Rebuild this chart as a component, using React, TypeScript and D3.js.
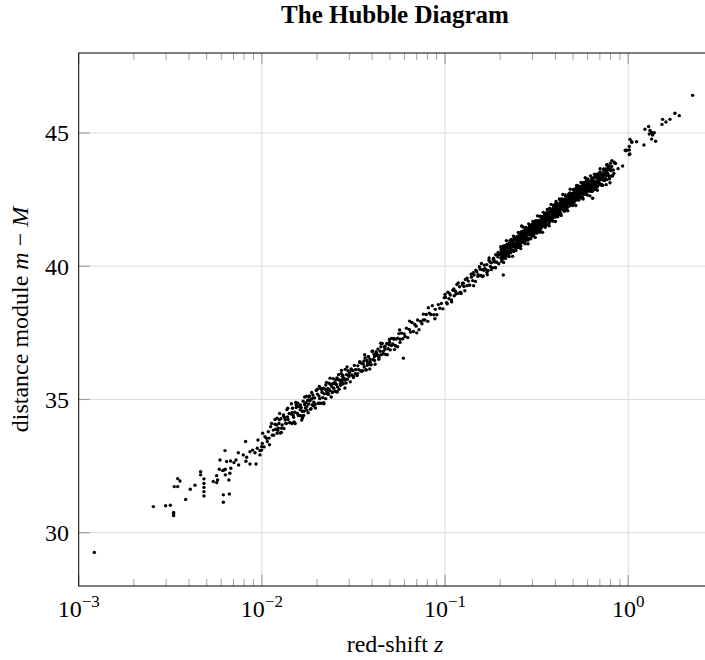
import React from "react";
import * as d3 from "d3";

// each entry: [red-shift z, distance module m - M]
type Sn = [number, number];

const nearbySample: Sn[] = [
  [0.001217, 29.26], [0.002555, 30.98], [0.002983, 31.01], [0.003164, 31.03],
  [0.003298, 30.76], [0.003298, 30.7], [0.003298, 30.64], [0.003325, 31.73],
  [0.003469, 31.73], [0.003469, 32.03], [0.003572, 31.94], [0.003836, 31.25],
  [0.004067, 31.63], [0.004312, 31.78], [0.00463, 32.29], [0.00463, 32.17],
  [0.004827, 32.02], [0.004827, 31.85], [0.004827, 31.7], [0.004827, 31.54],
  [0.004827, 31.38], [0.005429, 31.92], [0.005662, 31.88], [0.005733, 31.98],
  [0.005662, 32.14], [0.005904, 32.73], [0.005854, 32.38], [0.006105, 32.33],
  [0.006209, 32.35], [0.006314, 32.38], [0.006288, 33.08], [0.00616, 31.42],
  [0.006642, 31.45], [0.00616, 31.14], [0.006314, 32.17], [0.006685, 32.23],
  [0.006766, 32.42], [0.006605, 31.98], [0.006421, 32.67], [0.006752, 32.69],
  [0.007042, 32.63], [0.007221, 32.73], [0.007467, 32.54], [0.007436, 33.0],
  [0.007917, 32.92], [0.008257, 32.83], [0.008186, 32.68], [0.00861, 32.58],
  [0.008152, 33.42], [0.00861, 33.04], [0.008906, 33.1], [0.009171, 33.0],
  [0.009442, 33.17], [0.009763, 33.08], [0.00997, 33.23], [0.009288, 32.58],
  [0.009763, 32.92], [0.00997, 33.1], [0.009522, 33.48], [0.0101, 33.73],
  [0.0104, 33.6], [0.01062, 33.54], [0.01084, 33.79], [0.01116, 33.98],
  [0.01154, 33.85], [0.01204, 34.04], [0.0113, 34.1], [0.01229, 33.92],
  [0.01005, 33.35], [0.01028, 33.22], [0.0107, 33.42], [0.01095, 33.55],
  [0.011, 33.3], [0.0114, 33.66],
];

const localSample: Sn[] = [
  [0.0116, 33.66], [0.0118, 34.07], [0.0119, 33.88], [0.0121, 34.3], [0.0122, 33.84],
  [0.0124, 34.1], [0.0126, 33.74], [0.0127, 34.28], [0.0129, 34.04], [0.0131, 34.39],
  [0.0132, 33.91], [0.0134, 34.24], [0.0136, 34.1], [0.0137, 34.62], [0.0139, 34.25],
  [0.0141, 34.47], [0.0142, 34.13], [0.0144, 34.46], [0.0146, 34.1], [0.0147, 34.67],
  [0.0149, 34.33], [0.0151, 34.52], [0.0152, 34.1], [0.0154, 34.7], [0.0156, 34.48],
  [0.0157, 34.86], [0.0159, 34.41], [0.0161, 34.72], [0.0163, 34.39], [0.0164, 34.69],
  [0.0166, 34.56], [0.0168, 34.93], [0.0169, 34.4], [0.0171, 34.81], [0.0173, 34.69],
  [0.0175, 35.12], [0.0176, 34.6], [0.0178, 34.97], [0.018, 34.83], [0.0182, 35.13],
  [0.0184, 34.63], [0.0186, 35.01], [0.0188, 34.8], [0.019, 35.17], [0.0192, 34.9],
  [0.0194, 35.06], [0.0196, 34.68], [0.0198, 35.34], [0.0125, 34.47], [0.0133, 34.32],
  [0.0148, 34.41], [0.0158, 34.74], [0.017, 34.56], [0.0183, 34.95], [0.0191, 34.76],
  [0.0145, 34.84], [0.0165, 34.23], [0.0128, 33.92], [0.0138, 34.34], [0.0153, 34.89],
  [0.0179, 34.5], [0.0187, 35.26], [0.0162, 34.61], [0.0174, 34.88],
  [0.0201, 35.2], [0.0203, 34.86], [0.0205, 35.13], [0.0207, 35.03], [0.0209, 35.41],
  [0.0211, 34.86], [0.0213, 35.27], [0.0215, 35.07], [0.0217, 35.42], [0.0219, 35.21],
  [0.0221, 35.38], [0.0223, 35.03], [0.0225, 35.64], [0.0227, 35.21], [0.0229, 35.4],
  [0.0231, 35.19], [0.0233, 35.61], [0.0235, 35.34], [0.0237, 35.56], [0.0239, 35.09],
  [0.0241, 35.48], [0.0243, 35.28], [0.0245, 35.78], [0.0247, 35.42], [0.0249, 35.6],
  [0.0251, 35.31], [0.0253, 35.73], [0.0255, 35.56], [0.0257, 35.81], [0.0259, 35.47],
  [0.0262, 35.74], [0.0264, 35.38], [0.0266, 35.72], [0.0268, 35.59], [0.0271, 35.97],
  [0.0273, 35.68], [0.0275, 35.87], [0.0278, 35.59], [0.028, 35.8], [0.0283, 35.73],
  [0.0285, 36.13], [0.0288, 35.62], [0.029, 35.93], [0.0293, 35.76], [0.0295, 36.08],
  [0.0298, 35.91], [0.0301, 36.01], [0.0304, 35.66], [0.0307, 36.14], [0.031, 35.92],
  [0.0314, 36.08], [0.0317, 35.86], [0.032, 36.28], [0.0324, 35.97], [0.0327, 36.12],
  [0.0331, 35.9], [0.0334, 36.26], [0.0338, 36.12], [0.0342, 36.38], [0.0346, 36.07],
  [0.0206, 35.49], [0.0218, 34.84], [0.0232, 35.38], [0.0244, 35.59], [0.0258, 35.28],
  [0.0272, 36.09], [0.0286, 35.76], [0.0226, 35.3], [0.0252, 35.6], [0.0276, 35.76],
];

const localExtra: Sn[] = [
  [0.0118, 34.25], [0.01212, 33.73], [0.01245, 34.24], [0.01278, 33.76], [0.01313, 34.42],
  [0.01348, 34.11], [0.01384, 34.67], [0.01422, 34.13], [0.0146, 34.5], [0.01499, 34.16],
  [0.0154, 34.8], [0.01581, 34.4], [0.01624, 34.79], [0.01668, 34.31], [0.01713, 35.09],
  [0.01759, 34.74], [0.01806, 35.09], [0.01855, 34.65], [0.01905, 35.06], [0.01956, 34.82],
  [0.02009, 35.38], [0.02063, 34.86], [0.02119, 35.37], [0.02176, 34.88], [0.02235, 35.54],
  [0.02295, 35.24], [0.02357, 35.8], [0.02421, 35.26], [0.02486, 35.63], [0.02553, 35.29],
  [0.02622, 35.93], [0.02693, 35.53], [0.02765, 35.91], [0.0284, 35.43], [0.02917, 36.22],
  [0.02995, 35.87], [0.03076, 36.11], [0.03159, 35.82], [0.03244, 36.12], [0.03332, 35.97],
  [0.03422, 36.42], [0.03514, 36.06], [0.03609, 36.44], [0.03706, 36.12], [0.03806, 36.6],
  [0.03909, 36.41], [0.04014, 36.82], [0.04123, 36.46], [0.04234, 36.73], [0.04348, 36.51],
  [0.04466, 36.98], [0.04586, 36.71], [0.0471, 37.0], [0.04837, 36.68], [0.04968, 37.25],
  [0.05102, 37.02], [0.0524, 37.29], [0.05381, 37.0], [0.05526, 37.3], [0.05675, 37.14],
];

const intermediateSample: Sn[] = [
  [0.035, 36.36], [0.0354, 36.08], [0.0358, 36.33], [0.0362, 36.22], [0.0366, 36.56],
  [0.037, 36.1], [0.0374, 36.46], [0.0378, 36.38], [0.0382, 36.6], [0.0386, 36.31],
  [0.039, 36.5], [0.0395, 36.3], [0.04, 36.8], [0.0405, 36.5], [0.041, 36.7],
  [0.0415, 36.32], [0.042, 36.79], [0.0425, 36.66], [0.043, 36.89], [0.0436, 36.57],
  [0.0442, 36.81], [0.0448, 36.68], [0.0454, 37.1], [0.046, 36.8], [0.0467, 36.97],
  [0.0474, 36.69], [0.0481, 37.1], [0.0488, 36.9], [0.0495, 37.05], [0.0502, 36.86],
  [0.051, 37.29], [0.0518, 37.08], [0.0526, 37.26], [0.0534, 37.03], [0.0542, 37.27],
  [0.0551, 36.98], [0.056, 37.47], [0.0569, 37.26], [0.0578, 37.49], [0.0588, 37.28],
  [0.0598, 37.46], [0.0592, 36.55], [0.0364, 36.68], [0.0388, 36.14], [0.0412, 36.61],
  [0.0445, 37.11], [0.047, 36.88], [0.0498, 37.15], [0.053, 36.87], [0.0565, 37.61],
  [0.0376, 36.28], [0.0432, 36.65],
  [0.0605, 37.36], [0.0615, 37.67], [0.0626, 37.32], [0.0637, 37.63], [0.0648, 37.53],
  [0.0659, 37.89], [0.0671, 37.55], [0.0683, 37.82], [0.0695, 37.75], [0.0708, 37.98],
  [0.0721, 37.62], [0.0734, 37.93], [0.0748, 37.84], [0.0762, 38.2], [0.0776, 37.98],
  [0.079, 38.19], [0.0805, 37.93], [0.082, 38.24], [0.0836, 38.19], [0.0852, 38.52],
  [0.0868, 38.18], [0.0884, 38.38], [0.0901, 38.18], [0.0918, 38.56], [0.0936, 38.42],
  [0.0954, 38.6], [0.0972, 38.4], [0.099, 38.82], [0.064, 37.94], [0.07, 37.5],
  [0.081, 38.44], [0.088, 38.03], [0.076, 37.98],
  [0.1005, 38.83], [0.102, 38.63], [0.1035, 39.02], [0.105, 38.78], [0.1068, 38.92],
  [0.1085, 38.73], [0.1103, 39.1], [0.1122, 38.89], [0.114, 39.06], [0.116, 39.31],
  [0.118, 38.98], [0.12, 39.23], [0.1222, 38.98], [0.1245, 39.36], [0.1268, 39.24],
  [0.1258, 39.36], [0.1292, 39.5], [0.1316, 39.27], [0.134, 39.44], [0.1365, 39.29],
  [0.139, 39.7], [0.1426, 39.76], [0.1415, 39.46], [0.144, 39.67], [0.1465, 39.43],
  [0.149, 39.79], [0.1515, 39.68], [0.154, 39.98], [0.1565, 39.65], [0.159, 39.87],
  [0.1615, 39.63], [0.164, 40.04], [0.1665, 39.89], [0.169, 40.06], [0.1715, 39.84],
  [0.174, 40.31], [0.1765, 39.99], [0.179, 40.13], [0.1815, 39.94], [0.184, 40.3],
  [0.1865, 40.16], [0.189, 40.43], [0.1915, 40.15], [0.194, 40.35], [0.1965, 40.09],
  [0.199, 40.44], [0.158, 40.1], [0.17, 39.68], [0.185, 40.21], [0.195, 40.52],
  [0.163, 39.85], [0.176, 40.16], [0.188, 39.95],
  [0.1, 38.94], [0.1028, 38.59], [0.1057, 38.98], [0.1086, 38.66], [0.1117, 39.15],
  [0.1148, 38.96], [0.118, 39.37], [0.1213, 39.02], [0.1247, 39.29], [0.1282, 39.08],
  [0.1318, 39.55], [0.1355, 39.29], [0.1393, 39.59], [0.1432, 39.27], [0.1472, 39.85],
  [0.1513, 39.62], [0.1555, 39.89], [0.1599, 39.61], [0.1644, 39.91], [0.169, 39.77],
  [0.1737, 40.22], [0.1786, 39.87], [0.1836, 40.26], [0.1887, 39.94], [0.194, 40.43],
];

const distantSample: Sn[] = [
  [0.2005, 40.5], [0.2014, 40.31], [0.2023, 40.63], [0.2031, 40.42], [0.204, 40.56],
  [0.2049, 40.25], [0.2058, 40.49], [0.2066, 40.4], [0.2075, 40.75], [0.2083, 40.35],
  [0.2092, 40.56], [0.2101, 40.51], [0.211, 40.67], [0.2118, 40.36], [0.2127, 40.64],
  [0.2136, 40.29], [0.2145, 40.74], [0.2153, 40.52], [0.2162, 40.59], [0.2171, 40.49],
  [0.218, 40.83], [0.2188, 40.58], [0.2197, 40.75], [0.2206, 40.48], [0.2215, 40.71],
  [0.2224, 40.74], [0.2233, 40.55], [0.2242, 40.87], [0.2251, 40.66], [0.226, 40.81],
  [0.2269, 40.5], [0.2278, 40.74], [0.2287, 40.65], [0.2296, 41.0], [0.2305, 40.61],
  [0.2314, 40.82], [0.2323, 40.77], [0.2332, 40.93], [0.2341, 40.61], [0.235, 40.89],
  [0.2357, 40.98], [0.2368, 40.55], [0.2377, 41.0], [0.2386, 40.78], [0.2395, 40.84],
  [0.2404, 40.74], [0.2413, 41.08], [0.2422, 40.83], [0.2431, 41.0], [0.244, 40.73],
  [0.2449, 40.96], [0.2458, 40.99], [0.2467, 40.8], [0.2476, 41.12], [0.2485, 40.9],
  [0.2494, 41.05], [0.2503, 40.74], [0.2512, 40.98], [0.2521, 40.89], [0.253, 41.24],
  [0.2539, 40.84], [0.2548, 41.04], [0.2557, 40.99], [0.2566, 41.15], [0.2575, 40.84],
  [0.2584, 41.12], [0.2593, 40.76], [0.2602, 41.21], [0.2617, 41.51], [0.262, 41.0],
  [0.2629, 41.07], [0.2638, 40.96], [0.2647, 41.3], [0.2656, 41.05], [0.2665, 41.22],
  [0.2674, 40.95], [0.2683, 41.17], [0.2692, 41.2], [0.2701, 41.01], [0.271, 41.33],
  [0.2719, 41.12], [0.2728, 41.26], [0.2737, 40.95], [0.2746, 41.19], [0.2755, 41.1],
  [0.2764, 41.45], [0.2773, 41.04], [0.2782, 41.25], [0.2791, 41.2], [0.28, 41.36],
  [0.2812, 41.05], [0.2824, 41.33], [0.2836, 40.98], [0.2848, 41.43], [0.286, 41.21],
  [0.2872, 41.28], [0.2884, 41.19], [0.2896, 41.53], [0.2908, 41.28], [0.292, 41.45],
  [0.2932, 41.18], [0.2944, 41.41], [0.2956, 41.44], [0.2968, 41.25], [0.298, 41.57],
  [0.2992, 41.36], [0.2078, 39.67],
  [0.301, 41.29], [0.3027, 41.52], [0.3044, 41.2], [0.3061, 41.44], [0.3078, 41.51],
  [0.3095, 41.3], [0.3112, 41.67], [0.3129, 41.43], [0.3146, 41.54], [0.3163, 41.24],
  [0.318, 41.62], [0.3197, 41.42], [0.3214, 41.53], [0.3231, 41.71], [0.3248, 41.4],
  [0.3265, 41.61], [0.3282, 41.52], [0.3299, 41.86], [0.3316, 41.4], [0.3333, 41.7],
  [0.335, 41.52], [0.3367, 41.67], [0.3384, 41.81], [0.3401, 41.5], [0.3418, 41.68],
  [0.3435, 41.62], [0.3452, 41.85], [0.3469, 41.53], [0.3486, 41.77], [0.3503, 41.84],
  [0.352, 41.62], [0.3537, 42.0], [0.3554, 41.76], [0.3571, 41.86], [0.3588, 41.56],
  [0.3605, 41.94], [0.3622, 41.73], [0.3639, 41.85], [0.3656, 42.03], [0.3673, 41.71],
  [0.369, 41.92], [0.3707, 41.83], [0.3724, 42.18], [0.3741, 41.71], [0.3758, 42.01],
  [0.3775, 41.82], [0.3792, 41.97], [0.3809, 42.12], [0.3826, 41.8], [0.3843, 41.98],
  [0.386, 41.92], [0.3877, 42.15], [0.3894, 41.82], [0.3911, 42.06], [0.3928, 42.13],
  [0.3945, 41.91], [0.3962, 42.28], [0.3979, 42.05], [0.3996, 42.15], [0.402, 41.85],
  [0.4045, 42.24], [0.407, 42.03], [0.4095, 42.15], [0.412, 42.34], [0.4145, 42.02],
  [0.417, 42.24], [0.4195, 42.15], [0.422, 42.5], [0.4245, 42.03], [0.427, 42.34],
  [0.4295, 42.16], [0.432, 42.31], [0.4345, 42.46], [0.437, 42.14], [0.4395, 42.32],
  [0.442, 42.27], [0.4445, 42.5], [0.447, 42.18], [0.4495, 42.42],
  [0.452, 42.46], [0.4548, 42.21], [0.4576, 42.41], [0.4604, 42.6], [0.4632, 42.33],
  [0.466, 42.21], [0.4688, 42.58], [0.4716, 42.43], [0.4744, 42.54], [0.4772, 42.36],
  [0.48, 42.75], [0.4828, 42.45], [0.4856, 42.55], [0.4884, 42.36], [0.4912, 42.65],
  [0.494, 42.73], [0.4968, 42.48], [0.4996, 42.59], [0.5024, 42.73], [0.5052, 42.37],
  [0.508, 42.75], [0.5108, 42.49], [0.5136, 42.69], [0.5164, 42.87], [0.5192, 42.61],
  [0.522, 42.48], [0.5248, 42.85], [0.5276, 42.69], [0.5304, 42.81], [0.5332, 42.62],
  [0.536, 43.01], [0.5388, 42.71], [0.5416, 42.81], [0.5444, 42.62], [0.5472, 42.9],
  [0.55, 42.98], [0.5528, 42.73], [0.5556, 42.83], [0.5584, 42.97], [0.5612, 42.61],
  [0.564, 42.98], [0.5668, 42.72], [0.5696, 42.92], [0.5724, 43.1], [0.5752, 42.83],
  [0.578, 42.7], [0.5808, 43.07], [0.5836, 42.91], [0.5864, 43.02], [0.5892, 42.83],
  [0.592, 43.22], [0.5948, 42.92], [0.5976, 43.01], [0.601, 42.82], [0.605, 43.1],
  [0.609, 43.18], [0.613, 42.93], [0.617, 43.03], [0.621, 43.17], [0.625, 42.81],
  [0.629, 43.19], [0.633, 42.93], [0.637, 43.13], [0.639, 42.55], [0.641, 43.31],
  [0.645, 43.04], [0.649, 42.91],
  [0.653, 43.19], [0.6575, 43.01], [0.662, 43.38], [0.6665, 43.11], [0.671, 43.31],
  [0.6755, 42.97], [0.68, 43.21], [0.6845, 43.4], [0.689, 43.13], [0.6935, 43.33],
  [0.698, 43.07], [0.7025, 43.54], [0.707, 43.25], [0.7115, 43.41], [0.716, 43.04],
  [0.7205, 43.47], [0.725, 43.33], [0.7295, 43.42], [0.734, 43.22], [0.7385, 43.58],
  [0.743, 43.46], [0.7475, 43.28], [0.752, 43.65], [0.7565, 43.38], [0.761, 43.59],
  [0.7623, 43.8], [0.7655, 43.25], [0.77, 43.5], [0.7745, 43.68], [0.779, 43.42],
  [0.7835, 43.62], [0.788, 43.37], [0.7946, 43.13], [0.799, 43.86], [0.805, 43.58],
  [0.812, 43.74], [0.819, 43.38], [0.8283, 43.61], [0.8353, 43.48], [0.846, 43.85],
  [0.8533, 43.86],
];

const distantWide: Sn[] = [
  [0.2012, 40.73], [0.2037, 40.18], [0.2062, 40.66], [0.2087, 40.14], [0.2112, 40.77],
  [0.2137, 40.44], [0.2162, 40.96], [0.2187, 40.39], [0.2212, 40.73], [0.2237, 40.36],
  [0.2262, 40.96], [0.2287, 40.53], [0.2312, 40.89], [0.2337, 40.37], [0.2362, 41.13],
  [0.2387, 40.75], [0.2412, 41.07], [0.2437, 40.59], [0.2462, 40.97], [0.2487, 40.7],
  [0.2512, 41.27], [0.2537, 40.71], [0.2562, 41.18], [0.2587, 40.66], [0.2612, 41.29],
  [0.2637, 40.95], [0.2662, 41.47], [0.2687, 40.89], [0.2712, 41.22], [0.2737, 40.84],
  [0.2762, 41.44], [0.2787, 41.0], [0.2812, 41.36], [0.2837, 40.84], [0.2862, 41.59],
  [0.2887, 41.2], [0.2912, 41.51], [0.2937, 41.03], [0.2962, 41.4], [0.2987, 41.13],
  [0.3015, 41.68], [0.3045, 41.13], [0.3075, 41.6], [0.3105, 41.08], [0.3135, 41.71],
  [0.3165, 41.37], [0.3195, 41.89], [0.3225, 41.32], [0.3255, 41.65], [0.3285, 41.27],
  [0.3315, 41.88], [0.3345, 41.44], [0.3375, 41.79], [0.3405, 41.27], [0.3435, 42.02],
  [0.3465, 41.63], [0.3495, 41.94], [0.3525, 41.46], [0.3555, 41.83], [0.3585, 41.55],
  [0.3615, 42.13], [0.3645, 41.57], [0.3675, 42.04], [0.3705, 41.52], [0.3735, 42.14],
  [0.3765, 41.8], [0.3795, 42.32], [0.3825, 41.74], [0.3855, 42.07], [0.3885, 41.69],
  [0.3915, 42.29], [0.3945, 41.85], [0.3975, 42.2], [0.4005, 41.68], [0.4035, 42.43],
  [0.4065, 42.04], [0.4095, 42.34], [0.4125, 41.86], [0.4155, 42.23], [0.4185, 41.95],
  [0.4215, 42.52], [0.4245, 41.95], [0.4275, 42.42], [0.4305, 41.9], [0.4335, 42.52],
  [0.4365, 42.17], [0.4395, 42.69], [0.4425, 42.11], [0.4455, 42.44], [0.4485, 42.06],
  [0.4525, 42.67], [0.4575, 42.12], [0.4625, 42.59], [0.4675, 42.08], [0.4725, 42.7],
  [0.4775, 42.37], [0.4825, 42.89], [0.4875, 42.32], [0.4925, 42.65], [0.4975, 42.28],
  [0.5025, 42.88], [0.5075, 42.44], [0.5125, 42.8], [0.5175, 42.28], [0.5225, 43.03],
  [0.5275, 42.64], [0.5325, 42.96], [0.5375, 42.48], [0.5425, 42.85], [0.5475, 42.57],
  [0.5525, 43.14], [0.5575, 42.58], [0.5625, 43.05], [0.5675, 42.52], [0.5725, 43.14],
  [0.5775, 42.8], [0.5825, 43.32], [0.5875, 42.73], [0.5925, 43.06], [0.5975, 42.67],
  [0.6025, 43.27], [0.6075, 42.82], [0.6125, 43.17], [0.6175, 42.64], [0.6225, 43.39],
  [0.6275, 42.99], [0.6325, 43.3], [0.6375, 42.81], [0.6425, 43.17], [0.6475, 42.88],
  [0.654, 43.45], [0.662, 42.89], [0.67, 43.37], [0.678, 42.85], [0.686, 43.47],
  [0.694, 43.13], [0.702, 43.66], [0.71, 43.08], [0.718, 43.42], [0.726, 43.04],
  [0.734, 43.65], [0.742, 43.21], [0.75, 43.57], [0.758, 43.06], [0.766, 43.81],
  [0.774, 43.43], [0.782, 43.75], [0.79, 43.28], [0.798, 43.65], [0.806, 43.38],
  [0.814, 43.96], [0.822, 43.4], [0.838, 43.9],
];

const distantCore: Sn[] = [
  [0.2025, 40.48], [0.207, 40.4], [0.2115, 40.66], [0.216, 40.57], [0.2205, 40.71],
  [0.225, 40.56], [0.2295, 40.74], [0.234, 40.88], [0.2385, 40.77], [0.243, 40.77],
  [0.2475, 41.08], [0.252, 40.93], [0.2565, 41.04], [0.261, 40.9], [0.2655, 41.17],
  [0.27, 41.25], [0.2745, 41.09], [0.279, 41.19], [0.2835, 41.35], [0.288, 41.17],
  [0.2925, 41.35], [0.297, 41.25], [0.3015, 41.49], [0.306, 41.39], [0.3105, 41.51],
  [0.315, 41.35], [0.3195, 41.53], [0.324, 41.65], [0.3285, 41.53], [0.333, 41.51],
  [0.3375, 41.8], [0.342, 41.64], [0.3465, 41.75], [0.351, 41.6], [0.3555, 41.86],
  [0.36, 41.94], [0.3645, 41.77], [0.369, 41.86], [0.3735, 42.01], [0.378, 41.84],
  [0.3825, 42.01], [0.387, 41.91], [0.3915, 42.15], [0.396, 42.04], [0.4005, 42.15],
  [0.405, 41.98], [0.4095, 42.15], [0.414, 42.26], [0.4185, 42.13], [0.423, 42.11],
  [0.4275, 42.39], [0.432, 42.23], [0.4365, 42.32], [0.441, 42.16], [0.4455, 42.42],
  [0.45, 42.49], [0.4545, 42.31], [0.459, 42.4], [0.4635, 42.54], [0.468, 42.35],
  [0.4725, 42.51], [0.477, 42.41], [0.4815, 42.64], [0.486, 42.52], [0.4905, 42.63],
  [0.495, 42.45], [0.4995, 42.61], [0.504, 42.72], [0.5085, 42.58], [0.513, 42.55],
  [0.5175, 42.83], [0.522, 42.66], [0.5265, 42.75], [0.531, 42.59], [0.5355, 42.84],
  [0.54, 42.91], [0.5445, 42.73], [0.549, 42.81], [0.5535, 42.94], [0.558, 42.75],
  [0.5625, 42.91], [0.567, 42.79], [0.5715, 43.02], [0.576, 42.9], [0.5805, 43.0],
  [0.585, 42.82], [0.5895, 42.97], [0.594, 43.07], [0.5985, 42.93], [0.603, 42.89],
  [0.6075, 43.16], [0.612, 42.99], [0.6165, 43.07], [0.621, 42.9], [0.6255, 43.15],
  [0.63, 43.21], [0.6345, 43.02], [0.639, 43.09], [0.6435, 43.22], [0.648, 43.02],
];

const distantFill: Sn[] = [
  [0.205, 40.29], [0.2077, 40.55], [0.2104, 40.74], [0.2131, 40.45], [0.2159, 40.55],
  [0.2187, 40.77], [0.2215, 40.41], [0.2244, 40.79], [0.2273, 40.71], [0.2303, 40.59],
  [0.2333, 40.97], [0.2363, 40.74], [0.2394, 41.09], [0.2425, 40.68], [0.2457, 40.99],
  [0.2489, 40.92], [0.2521, 41.1], [0.2554, 40.73], [0.2587, 41.06], [0.2621, 41.26],
  [0.2655, 40.91], [0.2689, 41.17], [0.2724, 41.36], [0.276, 41.07], [0.2796, 41.17],
  [0.2832, 41.4], [0.2869, 41.03], [0.2906, 41.41], [0.2944, 41.32], [0.2982, 41.2],
  [0.3021, 41.57], [0.306, 41.34], [0.31, 41.69], [0.314, 41.27], [0.3181, 41.58],
  [0.3222, 41.52], [0.3264, 41.7], [0.3306, 41.33], [0.3349, 41.66], [0.3393, 41.86],
  [0.3437, 41.52], [0.3482, 41.79], [0.3527, 41.98], [0.3573, 41.69], [0.3619, 41.79],
  [0.3666, 42.02], [0.3714, 41.65], [0.3762, 42.03], [0.3811, 41.96], [0.3861, 41.84],
  [0.3911, 42.21], [0.3962, 41.99], [0.4013, 42.34], [0.4066, 41.92], [0.4118, 42.23],
  [0.4172, 42.16], [0.4226, 42.35], [0.4281, 41.98], [0.4337, 42.31], [0.4393, 42.51],
  [0.445, 42.15], [0.4508, 42.42], [0.4567, 42.61], [0.4626, 42.32], [0.4686, 42.42],
  [0.4747, 42.64], [0.4809, 42.27], [0.4871, 42.66], [0.4935, 42.58], [0.4999, 42.45],
  [0.5064, 42.82], [0.513, 42.59], [0.5196, 42.94], [0.5264, 42.52], [0.5332, 42.83],
  [0.5402, 42.76], [0.5472, 42.94], [0.5543, 42.57], [0.5615, 42.89], [0.5688, 43.09],
  [0.5762, 42.74], [0.5837, 43.0], [0.5913, 43.18], [0.599, 42.89], [0.6068, 42.98],
  [0.6147, 43.19], [0.6227, 42.82], [0.6308, 43.19], [0.639, 43.1], [0.6473, 42.97],
  [0.6557, 43.34], [0.6642, 43.1], [0.6728, 43.44], [0.6816, 43.01], [0.6905, 43.32],
  [0.6994, 43.25], [0.7085, 43.43], [0.7177, 43.05], [0.7271, 43.38], [0.7365, 43.58],
];

const highZSample: Sn[] = [
  [0.88, 43.66], [0.9316, 43.76], [0.9634, 44.35], [0.9714, 44.33], [0.9797, 44.35],
  [1.013, 44.49], [1.013, 44.19], [1.013, 44.36], [1.021, 44.21], [1.022, 44.76],
  [1.043, 44.67], [1.048, 44.65], [1.111, 44.67], [1.218, 44.55], [1.234, 45.14],
  [1.292, 45.24], [1.303, 44.96], [1.314, 45.09], [1.341, 45.02], [1.341, 44.77],
  [1.358, 44.92], [1.387, 45.01], [1.411, 44.69], [1.528, 45.32], [1.54, 45.51],
  [1.606, 45.41], [1.689, 45.51], [1.799, 45.74], [1.899, 45.65], [2.246, 46.41],
];

const supernovae: Sn[] = [
  ...nearbySample,
  ...localSample,
  ...localExtra,
  ...intermediateSample,
  ...distantSample,
  ...distantWide,
  ...distantCore,
  ...distantFill,
  ...highZSample,
];

const xDecades = [1e-3, 1e-2, 1e-1, 1];
const xExponents = ["−3", "−2", "−1", "0"];
const yTicks = [30, 35, 40, 45];

const W = 705;
const H = 660;
const plotLeft = 78.7;
const plotRight = 711; // the right border sits just past the window
const plotTop = 53;
const plotBottom = 586;
const FONT = "'Liberation Serif', 'Times New Roman', serif";

const App = () => {
  const x = d3.scaleLog().domain([1e-3, 2.83]).range([plotLeft, plotRight]);
  const y = d3.scaleLinear().domain([28, 48]).range([plotBottom, plotTop]);

  // minor ticks 2..9 of each decade, only below 10^0 like the original
  const minorTicks = x
    .ticks()
    .filter((t) => t < 1 && !xDecades.some((d) => Math.abs(d - t) < d * 1e-6));

  return (
    <svg
      width={W}
      height={H}
      style={{ position: "absolute", left: 0, top: 0, fontFamily: FONT }}
    >
      <rect x={0} y={0} width={W} height={H} fill="#fff" />

      {/* grid */}
      {xDecades.slice(1).map((d) => (
        <line key={"gx" + d} x1={x(d)} x2={x(d)} y1={plotTop} y2={plotBottom} stroke="#d9d9d9" strokeWidth={1} />
      ))}
      {yTicks.map((t) => (
        <line key={"gy" + t} x1={plotLeft} x2={plotRight} y1={y(t)} y2={y(t)} stroke="#d9d9d9" strokeWidth={1} />
      ))}

      {/* ticks, drawn inside the box */}
      {minorTicks.map((t, i) => (
        <g key={"mt" + i} stroke="#8c8c8c" strokeWidth={0.8}>
          <line x1={x(t)} x2={x(t)} y1={plotBottom} y2={plotBottom - 7} />
          <line x1={x(t)} x2={x(t)} y1={plotTop} y2={plotTop + 7} />
        </g>
      ))}
      {xDecades.map((d) => (
        <g key={"Mt" + d} stroke="#a0a0a0" strokeWidth={1.2}>
          <line x1={x(d)} x2={x(d)} y1={plotBottom} y2={plotBottom - 11} />
          <line x1={x(d)} x2={x(d)} y1={plotTop} y2={plotTop + 11} />
        </g>
      ))}
      {yTicks.map((t) => (
        <line key={"yt" + t} x1={plotLeft} x2={plotLeft + 11} y1={y(t)} y2={y(t)} stroke="#a0a0a0" strokeWidth={1.2} />
      ))}

      {/* points */}
      <g fill="#000">
        {supernovae.map(([z, mu], i) => (
          <circle key={i} cx={x(z)} cy={y(mu)} r={1.7} />
        ))}
      </g>

      {/* axis box */}
      <rect
        x={plotLeft}
        y={plotTop}
        width={plotRight - plotLeft}
        height={plotBottom - plotTop}
        fill="none"
        stroke="#000"
        strokeWidth={1}
      />

      {/* tick labels */}
      {xDecades.map((d, i) => (
        <text key={"xl" + d} x={x(d)} y={617} textAnchor="middle" fontSize={24} fill="#000">
          10
          <tspan dy={-10} fontSize={17}>
            {xExponents[i]}
          </tspan>
        </text>
      ))}
      {yTicks.map((t) => (
        <text key={"yl" + t} x={69} y={y(t) + 8.5} textAnchor="end" fontSize={24} fill="#000">
          {t}
        </text>
      ))}

      {/* labels */}
      <text x={395} y={23} textAnchor="middle" fontSize={25} fontWeight="bold" fill="#000">
        The Hubble Diagram
      </text>
      <text x={395} y={652} textAnchor="middle" fontSize={24} fill="#000">
        red-shift <tspan fontStyle="italic">z</tspan>
      </text>
      <text
        transform={`translate(28, ${(plotTop + plotBottom) / 2}) rotate(-90)`}
        textAnchor="middle"
        fontSize={24}
        fill="#000"
      >
        distance module <tspan fontStyle="italic">m</tspan> − <tspan fontStyle="italic">M</tspan>
      </text>
    </svg>
  );
};

export default App;
